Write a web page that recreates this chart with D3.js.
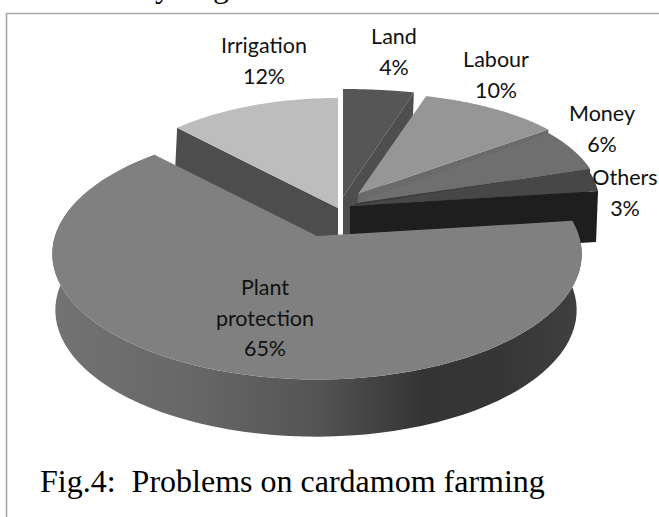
<!DOCTYPE html>
<html><head><meta charset="utf-8">
<style>html,body{margin:0;padding:0;background:#fff}svg{display:block}</style>
<script src="https://cdn.jsdelivr.net/npm/d3@7"></script>
</head><body><svg id="c" width="659" height="517"></svg>
<script>
// data
const categories = ["Land","Labour","Money","Others","Plant protection","Irrigation"];
const shares = [4,10,6,3,65,12];
const caption = "Fig.4:  Problems on cardamom farming";

// per-slice layout: exploded centre, radii, shear, perspective, depth and shades
const layout = [
  {cx:343,cy:197,rx:285,ry:108,sk:0,k:0,depth:52,top:"#565656",wall:"#4e4e4e",cut:"end"},
  {cx:358,cy:194,rx:240,ry:101,sk:8.6,k:0,depth:40,top:"#969696",wall:"#6a6a6a",cut:"end"},
  {cx:355,cy:203,rx:245,ry:110,sk:7,k:0,depth:30,top:"#6f6f6f",wall:"#3c3c3c",cut:"end"},
  {cx:350,cy:206,rx:250,ry:120,sk:0,k:0,depth:51,top:"#474747",wall:"#1e1e1e",cut:"end"},
  {cx:317,cy:236,rx:262,ry:123,sk:0,k:0.143,depth:56,top:"#808080",wall:"url(#side)",cut:"outer"},
  {cx:338,cy:208,rx:235,ry:110,sk:0,k:0,depth:42,top:"#bdbdbd",wall:"#4d4d4d",cut:"start"}
];
const drawOrder = [5,0,1,2,3,4];

const labelPos = [
  {x:394,y:37},{x:496,y:60},{x:602,y:114},{x:625,y:178},{x:265,y:288},{x:264,y:46}
];
const labelLines = [["Land"],["Labour"],["Money"],["Others"],["Plant","protection"],["Irrigation"]];

const svg = d3.select("#c");
const defs = svg.append("defs");
const grad = defs.append("linearGradient").attr("id","side")
  .attr("gradientUnits","userSpaceOnUse").attr("x1",52).attr("x2",582).attr("y1",0).attr("y2",0);
[[0,"#737373"],[0.28,"#666666"],[0.5,"#545454"],[0.7,"#343434"],[0.85,"#363636"],[1,"#404040"]]
  .forEach(([o,c])=>grad.append("stop").attr("offset",o).attr("stop-color",c));

// frame
const frame = d3.line();
svg.append("path").attr("d",frame([[6.5,517],[6.5,13.5],[659,13.5]]))
  .attr("fill","none").attr("stroke","#a6a6a6").attr("stroke-width",1.6);

// cropped line of body text above the frame
svg.selectAll("text.crop").data([["y",155],["g",213]]).join("text").attr("class","crop")
  .attr("x",d=>d[1]).attr("y",-3).attr("font-family","Liberation Serif").attr("font-size",32).text(d=>d[0]);

const pieGen = d3.pie().sort(null).value(d=>d).startAngle(0).endAngle(2*Math.PI);
const arcs = pieGen(shares);
// project an angle of the pie disc onto the tilted page, nearer edge larger
const pt = (l,a)=>{
  const X=Math.sin(a), Y=-Math.cos(a), w=1-l.k*Y;
  return [l.cx + (l.rx*X - l.sk*Y)/w, l.cy + l.ry*Y/w];
};
const sample = (a,n)=>d3.range(0,n+1).map(i=>a.startAngle+(a.endAngle-a.startAngle)*i/n);

const g = svg.append("g");
drawOrder.forEach(i=>{
  const a = arcs[i], l = layout[i];
  const steps = sample(a,80);
  if(l.cut==="outer"){
    const bottom = {cx:l.cx-1,cy:l.cy+l.depth,rx:l.rx-4,ry:l.ry+1,sk:0,k:l.k};
    const ring = steps.map(t=>pt(l,t)).concat(steps.slice().reverse().map(t=>pt(bottom,t)));
    g.append("path").attr("d",d3.line()(ring)+"Z").attr("fill",l.wall);
  } else {
    const t = l.cut==="end"?a.endAngle:a.startAngle;
    const p = pt(l,t), c=[l.cx,l.cy];
    const q = [c,p,[p[0]-2,p[1]+l.depth],[c[0],c[1]+l.depth]];
    g.append("path").attr("d",d3.line()(q)+"Z").attr("fill",l.wall);
  }
  g.append("path").attr("d",d3.line()([[l.cx,l.cy]].concat(steps.map(t=>pt(l,t))))+"Z").attr("fill",l.top);
});

// labels
const lh = 30.5;
categories.forEach((name,i)=>{
  const lines = labelLines[i].concat([shares[i]+"%"]);
  const t = svg.append("text").attr("text-anchor","middle").attr("font-family","Lato")
    .attr("font-size",21.5).attr("fill","#111");
  lines.forEach((s,k)=>t.append("tspan").attr("x",labelPos[i].x).attr("y",labelPos[i].y+7+k*lh).text(s));
});

svg.append("text").attr("x",40).attr("y",492).attr("xml:space","preserve").style("white-space","pre")
  .attr("font-family","Liberation Serif").attr("font-size",32).attr("fill","#000").text(caption);
</script></body></html>
